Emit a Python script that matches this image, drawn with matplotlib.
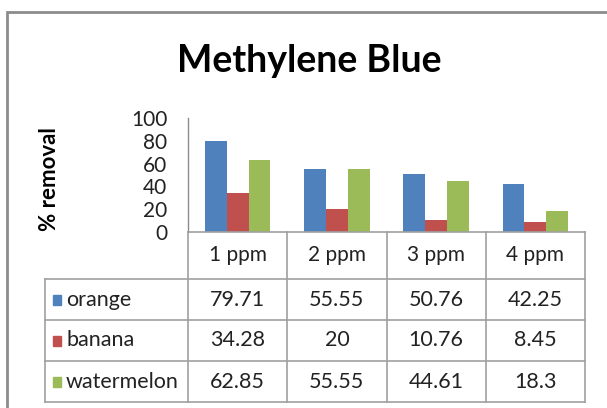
import matplotlib
matplotlib.use("Agg")
import matplotlib.pyplot as plt
from matplotlib.patches import Rectangle
from matplotlib.lines import Line2D
import matplotlib.transforms as mtransforms

categories = ["1 ppm", "2 ppm", "3 ppm", "4 ppm"]
series_names = ["orange", "banana", "watermelon"]
orange = [79.71, 55.55, 50.76, 42.25]
banana = [34.28, 20, 10.76, 8.45]
watermelon = [62.85, 55.55, 44.61, 18.3]
table_text = [["79.71", "55.55", "50.76", "42.25"],
              ["34.28", "20", "10.76", "8.45"],
              ["62.85", "55.55", "44.61", "18.3"]]
yticks = [0, 20, 40, 60, 80, 100]
colors = ["#4F81BD", "#C0504D", "#9BBB59"]

W, H = 607, 408
FONT = ["Lato", "DejaVu Sans"]
plt.rcParams['font.family'] = FONT

fig = plt.figure(figsize=(W / 100, H / 100), dpi=100)

def fx(x):
    return x / W

def fy(y):
    return 1 - y / H

# outer frame (clipped at right/bottom like the reference)
fig.patches.append(Rectangle((fx(7), fy(440)), fx(640) - fx(7), fy(12) - fy(440),
                             transform=fig.transFigure, fill=False,
                             edgecolor="#8c8c8c", linewidth=2.0))

# plot area
left, right, top, bottom = 188, 585, 118, 232
ax = fig.add_axes([fx(left), fy(bottom), fx(right) - fx(left), fy(top) - fy(bottom)])
x = list(range(len(categories)))
w = 0.22
for i, (vals, c) in enumerate(zip([orange, banana, watermelon], colors)):
    ax.bar([xi + (i - 1) * w for xi in x], vals, width=w, color=c, linewidth=0)
ax.set_xlim(-0.5, len(categories) - 0.5)
ax.set_ylim(0, 100)
ax.set_yticks(yticks)
ax.set_yticklabels([str(t) for t in yticks], fontsize=15, color="#222222")
ax.tick_params(axis="y", length=0, pad=15)
ax.set_xticks([])
for s in ["top", "right"]:
    ax.spines[s].set_visible(False)
ax.spines["left"].set_color("#8c8c8c")
ax.spines["bottom"].set_color("#a0a0a0")
ax.spines["left"].set_linewidth(1.0)
ax.spines["bottom"].set_linewidth(1.2)

fig.text(fx(50), fy(179), "% removal", rotation=90, fontsize=16, fontweight="bold",
         ha="center", va="center")
fig.text(fx(309), fy(61), "Methylene Blue", fontsize=27, fontweight="bold",
         ha="center", va="center")

# data table
blend = mtransforms.blended_transform_factory(ax.transData, fig.transFigure)
lc = "#a0a0a0"
row_lines = [279, 320, 361, 402]
tab_left = 45
for ry in row_lines:
    fig.lines.append(Line2D([fx(tab_left), fx(right)], [fy(ry), fy(ry)],
                            transform=fig.transFigure, color=lc, linewidth=1.2))
fig.lines.append(Line2D([fx(tab_left), fx(tab_left)], [fy(279), fy(402)],
                        transform=fig.transFigure, color=lc, linewidth=1.2))
for b in range(len(categories) + 1):
    fig.lines.append(Line2D([b - 0.5, b - 0.5], [fy(bottom), fy(402)],
                            transform=blend, color=lc, linewidth=1.2))
for xi, cat in zip(x, categories):
    fig.text(xi, fy(255), cat, transform=blend, ha="center", va="center",
             fontsize=15, color="#222222")
row_centers = [299.5, 340.5, 381.5]
for r, (name, c) in enumerate(zip(series_names, colors)):
    yc = row_centers[r]
    fig.patches.append(Rectangle((fx(53), fy(yc + 5)), fx(8), fy(0) - fy(10),
                                 transform=fig.transFigure, color=c))
    fig.text(fx(66), fy(yc), name, ha="left", va="center", fontsize=15.5,
             color="#222222")
    for xi in x:
        fig.text(xi, fy(yc), table_text[r][xi], transform=blend, ha="center",
                 va="center", fontsize=15.5, color="#222222")

fig.savefig("out.png", dpi=100)
